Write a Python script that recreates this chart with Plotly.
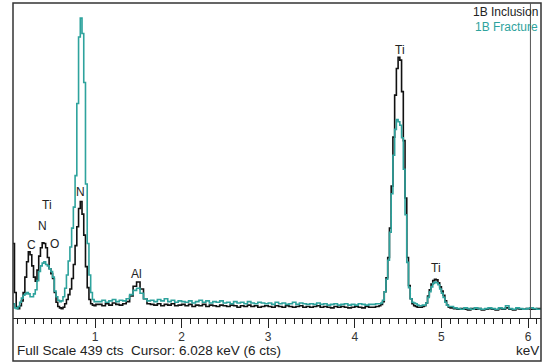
import plotly.graph_objects as go

# ---------------- data (energy in keV, counts) ----------------
energy_low = [0.05, 0.07, 0.09, 0.11, 0.13, 0.15, 0.17, 0.19, 0.21, 0.23, 0.25, 0.27, 0.29, 0.31,
              0.33, 0.35, 0.37, 0.39, 0.41, 0.43, 0.45, 0.47, 0.49, 0.51, 0.53, 0.55, 0.57, 0.59,
              0.61, 0.63, 0.65, 0.67, 0.69, 0.71, 0.73, 0.75, 0.77, 0.79, 0.81, 0.83, 0.85, 0.87,
              0.89, 0.91, 0.93, 0.95, 0.97, 0.99, 1.01]
inclusion_low = [100, 30, 9, 7, 11, 18, 30, 52, 74, 88, 84, 68, 52, 46,
                 62, 82, 94, 101, 100, 94, 80, 64, 57, 50, 30, 16, 10, 8,
                 7, 9, 14, 20, 27, 35, 50, 70, 97, 124, 150, 160, 142, 112,
                 67, 37, 20, 14, 12, 11, 13]
fracture_low = [14, 8, 7, 10, 16, 22, 26, 28, 30, 28, 24, 24, 28, 34,
                47, 60, 68, 72, 74, 70, 68, 64, 60, 52, 32, 24, 19, 17,
                18, 24, 36, 55, 75, 95, 122, 152, 197, 300, 395, 422, 400, 330,
                185, 100, 55, 30, 20, 17, 17]

energy_mid = [1.04, 1.08, 1.12, 1.16, 1.20, 1.24, 1.28, 1.32, 1.36, 1.40, 1.44, 1.48, 1.52, 1.56,
              1.60, 1.64, 1.68, 1.72, 1.76, 1.80, 1.84, 1.88, 1.92, 1.96, 2.00, 2.04, 2.08, 2.12,
              2.16, 2.20, 2.24, 2.28, 2.32, 2.36, 2.40, 2.44, 2.48, 2.52, 2.56, 2.60, 2.64, 2.68,
              2.72, 2.76, 2.80, 2.84, 2.88, 2.92, 2.96, 3.00, 3.04, 3.08, 3.12, 3.16, 3.20, 3.24,
              3.28, 3.32, 3.36, 3.40, 3.44, 3.48, 3.52, 3.56, 3.60, 3.64, 3.68, 3.72, 3.76, 3.80,
              3.84, 3.88, 3.92, 3.96, 4.00, 4.04, 4.08, 4.12, 4.16, 4.20, 4.24, 4.28]
inclusion_mid = [13, 11, 14, 12, 15, 13, 12, 14, 17,
                 25, 39, 45, 35, 21, 14,
                 13, 12, 14, 11, 13, 12, 14, 11, 12, 13,
                 11, 13, 10, 12, 11, 13, 10, 12, 11, 10, 12, 11,
                 10, 12, 11, 9, 11, 10, 12, 10, 11, 9, 10, 11,
                 10, 9, 11, 10, 9, 11, 10, 9, 10, 11, 9, 10,
                 9, 10, 11, 9, 10, 9, 8, 10, 9, 10, 9, 8,
                 9, 10, 9, 8, 10, 9, 9, 10, 11]
fracture_mid = [17, 19, 16, 18, 20, 17, 19, 18, 21,
                27, 33, 36, 29, 21, 18,
                19, 17, 20, 18, 21, 17, 19, 16, 18, 17,
                16, 18, 15, 17, 19, 16, 18, 15, 17, 16, 18, 15,
                16, 14, 17, 15, 16, 14, 17, 15, 14, 16, 15, 14,
                15, 13, 16, 14, 15, 13, 14, 16, 13, 15, 14, 13,
                14, 13, 15, 13, 14, 12, 13, 14, 12, 13, 14, 12,
                13, 12, 14, 13, 12, 13, 13, 14, 14]

energy_ti = [4.30, 4.32, 4.34, 4.36, 4.38, 4.40, 4.42, 4.44, 4.46, 4.48, 4.50, 4.52, 4.54, 4.56,
             4.58, 4.60, 4.62, 4.64, 4.66, 4.68, 4.70, 4.72, 4.74, 4.76, 4.78, 4.80, 4.82, 4.84,
             4.86, 4.88, 4.90, 4.92, 4.94, 4.96, 4.98, 5.00, 5.02, 5.04, 5.06, 5.08, 5.10]
inclusion_ti = [13, 17, 31, 51, 80, 122, 182, 252, 312, 350, 366, 362, 317, 247,
                165, 80, 40, 21, 14, 11, 10, 9, 9, 9, 10, 11, 15, 25,
                34, 42, 47, 49, 48, 44, 38, 32, 26, 18, 12, 9, 8]
fracture_ti = [15, 19, 31, 49, 76, 116, 171, 226, 263, 277, 274, 269, 251, 206,
               141, 73, 37, 21, 16, 15, 14, 12, 11, 11, 12, 12, 15, 23,
               31, 38, 43, 45, 44, 41, 35, 29, 23, 16, 12, 10, 10]

energy_high = [5.14, 5.18, 5.22, 5.26, 5.30, 5.34, 5.38, 5.42, 5.46, 5.50, 5.54, 5.58, 5.62,
               5.66, 5.70, 5.74, 5.78, 5.82, 5.86, 5.90, 5.94, 5.98, 6.02, 6.06, 6.10, 6.14]
inclusion_high = [7, 6, 7, 6, 5, 7, 6, 7, 5, 6, 7, 6, 5, 7, 6, 8, 6, 5, 7, 6, 6, 7, 6, 6, 7, 6]
fracture_high = [8, 7, 6, 8, 7, 6, 8, 7, 6, 7, 8, 7, 6, 8, 7, 11, 7, 6, 8, 7, 6, 7, 8, 7, 6, 7]

energy = energy_low + energy_mid + energy_ti + energy_high
inclusion = inclusion_low + inclusion_mid + inclusion_ti + inclusion_high
fracture = fracture_low + fracture_mid + fracture_ti + fracture_high

series_names = ["1B Inclusion", "1B Fracture"]
peak_labels = ["C", "N", "Ti", "O", "N", "Al", "Ti", "Ti"]
full_scale = 439
cursor_kev = 6.028
cursor_cts = 6

# ---------------- figure ----------------
W, H = 546, 364
BLACK = "#111111"
TEAL = "#2ea39d"
FONT = "Liberation Sans, Arial, sans-serif"

fig = go.Figure()
fig.add_trace(go.Scatter(x=energy, y=inclusion, mode="lines", line_shape="hv",
                         line=dict(color=BLACK, width=1.6), name=series_names[0],
                         showlegend=False, hoverinfo="skip"))
fig.add_trace(go.Scatter(x=energy, y=fracture, mode="lines", line_shape="hv",
                         line=dict(color=TEAL, width=1.6), name=series_names[1],
                         showlegend=False, hoverinfo="skip"))

def px_x(p):
    return p / W

def px_y(p):
    return (H - p) / H

fig.update_layout(
    width=W, height=H,
    margin=dict(l=0, r=0, t=0, b=0),
    paper_bgcolor="white", plot_bgcolor="white",
    font=dict(family=FONT, color="#222222", size=12),
    xaxis=dict(domain=[px_x(13), px_x(541)], range=[0.053, 6.150],
               showgrid=False, zeroline=False,
               showline=True, linecolor="#222222", linewidth=1,
               ticks="outside", ticklen=9, tickwidth=1, tickcolor="#222222",
               tick0=0, dtick=1, tickfont=dict(size=12, color="#333333"),
               ticklabelstandoff=-1,
               minor=dict(ticks="outside", ticklen=5, tickwidth=1, tickcolor="#222222",
                          dtick=0.1, tick0=0, showgrid=False)),
    yaxis=dict(domain=[px_y(318), px_y(3)], range=[-6.4, 443.6],
               showgrid=False, zeroline=False, showticklabels=False, ticks=""),
)

# outer frame
fig.add_shape(type="rect", xref="paper", yref="paper",
              x0=px_x(13), x1=px_x(541), y0=px_y(361), y1=px_y(3),
              line=dict(color="#333333", width=1.5), fillcolor="rgba(0,0,0,0)", layer="above")
# cursor line
fig.add_shape(type="line", xref="x", yref="y domain", x0=cursor_kev, x1=cursor_kev,
              y0=0, y1=1, line=dict(color="#555555", width=1))

# peak labels
label_pos = [(0.269, 98), (0.388, 125), (0.451, 155), (0.527, 99),
             (0.838, 174), (1.479, 56), (4.522, 377), (4.938, 65)]
for txt, (lx, ly) in zip(peak_labels, label_pos):
    fig.add_annotation(x=lx, y=ly, xref="x", yref="y", text=txt, showarrow=False,
                       font=dict(size=12, color="#222222"), xanchor="center", yanchor="middle")

# legend texts
fig.add_annotation(x=px_x(540), y=px_y(12), xref="paper", yref="paper", text=series_names[0],
                   showarrow=False, xanchor="right", yanchor="middle",
                   font=dict(size=12, color="#222222"))
fig.add_annotation(x=px_x(540), y=px_y(27), xref="paper", yref="paper", text=series_names[1],
                   showarrow=False, xanchor="right", yanchor="middle",
                   font=dict(size=12, color=TEAL))

# bottom status line
status = f"Full Scale {full_scale} cts\u00a0\u00a0Cursor: {cursor_kev:.3f} keV ({cursor_cts} cts)"
fig.add_annotation(x=px_x(15), y=px_y(350), xref="paper", yref="paper", text=status,
                   showarrow=False, xanchor="left", yanchor="middle",
                   font=dict(size=13.5, color="#222222"))
fig.add_annotation(x=px_x(541), y=px_y(350), xref="paper", yref="paper", text="keV",
                   showarrow=False, xanchor="right", yanchor="middle",
                   font=dict(size=13.5, color="#222222"))

fig.write_html("out.html",
               config={"displayModeBar": False, "staticPlot": True},
               post_script="document.body.style.margin='0';document.body.style.overflow='hidden';")
